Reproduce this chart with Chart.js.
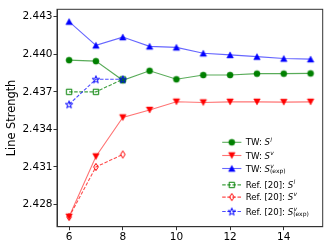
<!DOCTYPE html>
<html><head><meta charset="utf-8">
<script src="https://cdn.jsdelivr.net/npm/chart.js@4"></script>
<style>html,body{margin:0;padding:0;background:#fff}#wrap{width:333px;height:250px;position:relative}</style>
</head><body><div id="wrap"><canvas id="c"></canvas></div>
<script>
// ---- data ----
const nTW = [6, 7, 8, 9, 10, 11, 12, 13, 14, 15];
const twSl = [2.43953, 2.43945, 2.43792, 2.43868, 2.43800, 2.43834, 2.43834, 2.43845, 2.43845, 2.43847];
const twSv = [2.42702, 2.43184, 2.43495, 2.43555, 2.43621, 2.43615, 2.43620, 2.43620, 2.43618, 2.43620];
const twSvExp = [2.44261, 2.44071, 2.44137, 2.44063, 2.44055, 2.44008, 2.43995, 2.43981, 2.43966, 2.43961];
const nRef = [6, 7, 8];
const refSl = [2.437, 2.437, 2.438];
const refSv = [2.427, 2.431, 2.432];
const refSvExp = [2.436, 2.438, 2.438];
const xTicks = [6, 8, 10, 12, 14];
const yTicks = [2.428, 2.431, 2.434, 2.437, 2.440, 2.443];
const seriesNames = ['TW: S^{l}', 'TW: S^{v}', 'TW: S^{v}_{(exp)}', 'Ref. [20]: S^{l}', 'Ref. [20]: S^{v}', 'Ref. [20]: S^{v}_{(exp)}'];
const yTitle = 'Line Strength';

// ---- marker images ----
function marker(shape, fill, stroke, lw) {
  const S = 12, c = document.createElement('canvas');
  c.width = S; c.height = S;
  const g = c.getContext('2d');
  g.translate(S / 2, S / 2);
  g.beginPath();
  if (shape === 'circle') { g.arc(0, 0, 3.1, 0, Math.PI * 2); }
  else if (shape === 'up') { g.moveTo(0, -3.1); g.lineTo(3.3, 3.0); g.lineTo(-3.3, 3.0); g.closePath(); }
  else if (shape === 'down') { g.moveTo(0, 3.1); g.lineTo(3.3, -3.0); g.lineTo(-3.3, -3.0); g.closePath(); }
  else if (shape === 'square') { g.rect(-2.7, -2.7, 5.4, 5.4); }
  else if (shape === 'thin') { g.moveTo(0, -3.6); g.lineTo(2.3, 0); g.lineTo(0, 3.6); g.lineTo(-2.3, 0); g.closePath(); }
  else if (shape === 'star') {
    const R = 3.9, r = R * 0.381;
    for (let i = 0; i < 10; i++) {
      const a = -Math.PI / 2 + i * Math.PI / 5, rr = i % 2 ? r : R;
      const px = Math.cos(a) * rr, py = Math.sin(a) * rr + 0.4;
      i ? g.lineTo(px, py) : g.moveTo(px, py);
    }
    g.closePath();
  }
  if (fill) { g.fillStyle = fill; g.fill(); }
  if (stroke) { g.strokeStyle = stroke; g.lineWidth = lw; g.stroke(); }
  return c;
}
const G = '#008000', R = '#ff0000', B = '#0000ff';
const mk = [
  marker('circle', G, G, 0.5), marker('down', R, R, 0.5), marker('up', B, B, 0.5),
  marker('square', null, G, 1), marker('thin', null, R, 1), marker('star', null, B, 1)
];
const lineCols = ['rgba(0,128,0,0.65)', 'rgba(255,0,0,0.55)', 'rgba(0,0,255,0.6)',
  'rgba(0,128,0,0.75)', 'rgba(255,0,0,0.7)', 'rgba(0,0,255,0.7)'];
const dashes = [[], [], [], [3.5, 1.6], [3.5, 1.6], [3.5, 1.6]];
const xs = [nTW, nTW, nTW, nRef, nRef, nRef];
const ys = [twSl, twSv, twSvExp, refSl, refSv, refSvExp];

const datasets = ys.map((arr, i) => ({
  label: seriesNames[i],
  data: arr.map((v, j) => ({ x: xs[i][j], y: v })),
  borderColor: lineCols[i],
  borderWidth: 1.1,
  borderDash: dashes[i],
  pointStyle: mk[i],
  pointRadius: 3,
  pointHoverRadius: 3,
  tension: 0,
  fill: false,
  order: 6 - i
}));

// ---- custom legend with super/subscripts ----
function drawRich(ctx, txt, x, base, size) {
  const m = txt.match(/^(.*?)S\^\{(.*?)\}(?:_\{(.*?)\})?$/);
  ctx.fillStyle = '#000';
  ctx.textBaseline = 'alphabetic';
  ctx.textAlign = 'left';
  ctx.font = size + 'px "DejaVu Sans"';
  ctx.fillText(m[1], x, base);
  x += ctx.measureText(m[1]).width;
  ctx.font = 'italic ' + size + 'px "DejaVu Sans"';
  ctx.fillText('S', x, base);
  x += ctx.measureText('S').width + 0.3;
  const ss = size * 0.7;
  ctx.font = 'italic ' + ss + 'px "DejaVu Sans"';
  ctx.fillText(m[2], x, base - size * 0.42);
  if (m[3]) {
    ctx.font = ss + 'px "DejaVu Sans"';
    ctx.fillText(m[3], x - 0.3, base + size * 0.22);
  }
}
const legendPlugin = {
  id: 'richLegend',
  afterDraw(chart) {
    const ctx = chart.ctx, a = chart.chartArea;
    const rows = [-84.4, -71.2, -58.2, -41.8, -29.6, -15.2];
    const hx0 = a.right - 100.5, hx1 = a.right - 81.3, tx = a.right - 77;
    ctx.save();
    chart.data.datasets.forEach((ds, i) => {
      const y = a.bottom + rows[i];
      ctx.strokeStyle = ds.borderColor;
      ctx.lineWidth = ds.borderWidth;
      ctx.setLineDash(ds.borderDash);
      ctx.beginPath(); ctx.moveTo(hx0, y); ctx.lineTo(hx1, y); ctx.stroke();
      ctx.setLineDash([]);
      const im = ds.pointStyle;
      ctx.drawImage(im, (hx0 + hx1) / 2 - im.width / 2, y - im.height / 2);
      drawRich(ctx, ds.label, tx, y + 3, 8.6);
    });
    ctx.restore();
  }
};
const framePlugin = {
  id: 'frame',
  afterDatasetsDraw(chart) {
    const ctx = chart.ctx, a = chart.chartArea;
    ctx.save();
    ctx.strokeStyle = '#333';
    ctx.lineWidth = 1;
    ctx.strokeRect(a.left, a.top, a.right - a.left, a.bottom - a.top);
    ctx.restore();
  }
};

const tickFont = { family: 'DejaVu Sans', size: 10.5 };
new Chart(document.getElementById('c'), {
  type: 'line',
  data: { datasets },
  options: {
    responsive: true,
    maintainAspectRatio: false,
    animation: false,
    devicePixelRatio: 1,
    layout: { padding: { top: 9.3, right: 10.3, left: 0, bottom: 0 } },
    plugins: { legend: { display: false }, tooltip: { enabled: false } },
    scales: {
      x: {
        type: 'linear', min: 5.55, max: 15.45,
        afterBuildTicks: s => { s.ticks = xTicks.map(v => ({ value: v })); },
        afterFit: s => { s.height = 23.3; },
        grid: { drawOnChartArea: false, tickLength: 3.5, color: '#333', tickWidth: 1 },
        border: { color: '#333', width: 1 },
        ticks: { font: tickFont, color: '#000', padding: 1, maxRotation: 0, autoSkip: false,
          callback: v => String(v) }
      },
      y: {
        type: 'linear', min: 2.42623, max: 2.44359,
        afterBuildTicks: s => { s.ticks = yTicks.map(v => ({ value: v })); },
        afterFit: s => { s.width = 57; },
        grid: { drawOnChartArea: false, tickLength: 3.5, color: '#333', tickWidth: 1 },
        border: { color: '#333', width: 1 },
        ticks: { font: tickFont, color: '#000', padding: 1, autoSkip: false,
          callback: v => v.toFixed(3) },
        title: { display: true, text: yTitle, color: '#000',
          font: { family: 'DejaVu Sans', size: 11.4 }, padding: { top: 5, bottom: 0 } }
      }
    }
  },
  plugins: [framePlugin, legendPlugin]
});
</script>
</body></html>
